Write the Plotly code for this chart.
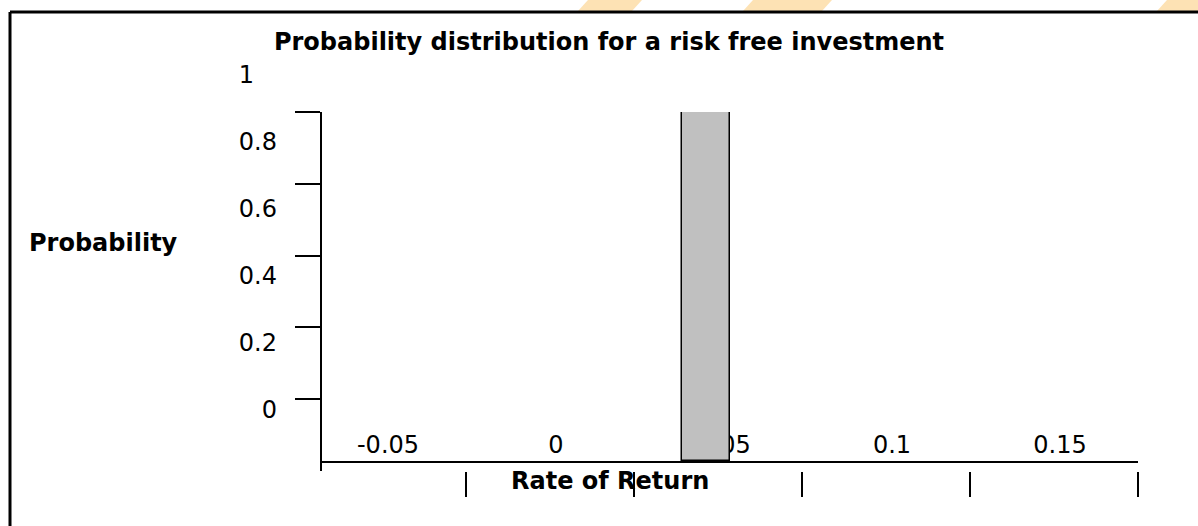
import plotly.graph_objects as go

# Data
returns = ["-0.05", "0", "0.05", "0.1", "0.15"]
probabilities = [0.0, 0.0, 1.0, 0.0, 0.0]
prob_ticks = [0.2, 0.4, 0.6, 0.8, 1.0]
prob_label_vals = [0, 0.2, 0.4, 0.6, 0.8, 1.0]
prob_label_text = ["0", "0.2", "0.4", "0.6", "0.8", "1\u00a0\u00a0\u00a0"]

W, H = 1198, 526
FONT = "DejaVu Sans, Liberation Sans, Arial, sans-serif"
FS = 24


def px(x):
    return x / W


def py(y):
    return 1 - y / H


bar_x = [r for r, p in zip(returns, probabilities) if p > 0]
bar_y = [p for p in probabilities if p > 0]

X_DOMAIN = [px(322), px(1138.3)]
X_RANGE = [-0.5 + 24 / 168, 4.502]

fig = go.Figure()

# frame axis (ticks only)
fig.add_trace(go.Scatter(x=[], y=[], xaxis="x", yaxis="y", showlegend=False, hoverinfo="skip"))
# label axis
fig.add_trace(go.Scatter(x=[], y=[], xaxis="x", yaxis="y2", showlegend=False, hoverinfo="skip"))
# the bar
fig.add_trace(go.Bar(
    x=bar_x, y=bar_y, xaxis="x2", yaxis="y3",
    width=0.286, offset=-0.214,
    marker=dict(color="#C0C0C0", line=dict(color="black", width=1.5)),
    showlegend=False,
))

fig.update_layout(
    width=W, height=H,
    margin=dict(l=0, r=0, t=0, b=0, autoexpand=False),
    paper_bgcolor="white", plot_bgcolor="rgba(0,0,0,0)",
    font=dict(family=FONT, size=FS, color="black"),
    title=dict(
        text="<b>Probability distribution for a risk free investment</b>",
        x=px(609), y=py(42), xanchor="center", yanchor="middle",
        font=dict(family=FONT, size=FS, color="black"),
    ),
    xaxis=dict(
        domain=X_DOMAIN,
        type="category", categoryorder="array", categoryarray=returns,
        range=X_RANGE,
        anchor="y", layer="below traces",
        showgrid=False, zeroline=False, showline=False,
        tickson="boundaries", ticks="outside", ticklen=25, tickwidth=2, tickcolor="black",
        ticklabelposition="inside", ticklabelstandoff=10, ticklabelshift=6,
        tickfont=dict(family=FONT, size=FS, color="black"),
    ),
    xaxis2=dict(
        domain=X_DOMAIN,
        type="category", categoryorder="array", categoryarray=returns,
        range=X_RANGE,
        anchor="y3",
        showgrid=False, zeroline=False,
        showline=True, linecolor="black", linewidth=2,
        ticks="", showticklabels=False,
    ),
    yaxis=dict(
        domain=[py(471), py(112)], range=[0, 1], anchor="x",
        showgrid=False, zeroline=False,
        showline=True, linecolor="black", linewidth=2,
        tickmode="array", tickvals=prob_ticks,
        ticks="outside", ticklen=25, tickwidth=2, tickcolor="black",
        showticklabels=False,
    ),
    yaxis2=dict(
        domain=[py(410), py(75)], range=[0, 1], anchor="free", position=px(277),
        showgrid=False, zeroline=False, showline=False, ticks="",
        tickmode="array", tickvals=prob_label_vals, ticktext=prob_label_text,
        tickfont=dict(family=FONT, size=FS, color="black"),
    ),
    yaxis3=dict(
        domain=[py(461), py(112)], range=[0, 1], anchor="x2",
        showgrid=False, showline=False, zeroline=False, ticks="", showticklabels=False,
    ),
    bargap=0,
)

# axis titles
fig.add_annotation(text="<b>Probability</b>", x=px(103), y=py(243), xref="paper", yref="paper",
                   showarrow=False, xanchor="center", yanchor="middle",
                   font=dict(family=FONT, size=FS, color="black"))
fig.add_annotation(text="<b>Rate of Return</b>", x=px(610), y=py(481), xref="paper", yref="paper",
                   showarrow=False, xanchor="center", yanchor="middle",
                   font=dict(family=FONT, size=FS, color="black"))

# chart frame (left and top edges)
fig.add_shape(type="line", xref="paper", yref="paper", x0=px(10), x1=1, y0=py(12), y1=py(12),
              line=dict(color="black", width=3))
fig.add_shape(type="line", xref="paper", yref="paper", x0=px(10), x1=px(10), y0=py(12), y1=0,
              line=dict(color="black", width=3))

# faint background stripes along the top edge
for x0, x1 in [(578, 632), (743, 822), (1157, 1198)]:
    path = (f"M {px(x0)} {py(11)} L {px(x1)} {py(11)} "
            f"L {px(x1 + 10)} {py(0)} L {px(x0 + 10)} {py(0)} Z")
    fig.add_shape(type="path", path=path, xref="paper", yref="paper",
                  fillcolor="#FDE2B4", line=dict(width=0), layer="below")

fig.write_html("out.html")
